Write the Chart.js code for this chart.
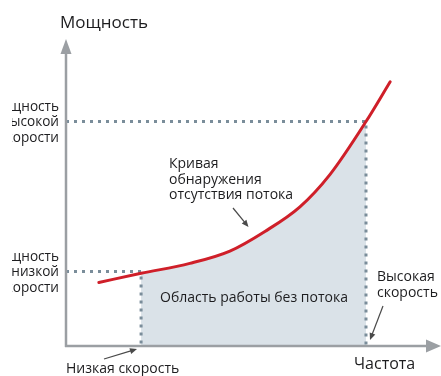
<!DOCTYPE html>
<html>
<head>
<meta charset="utf-8">
<script src="https://cdn.jsdelivr.net/npm/chart.js@4"></script>
<style>
  html, body { margin: 0; padding: 0; background: #ffffff; }
  canvas { display: block; }
</style>
</head>
<body>
<canvas id="chart" width="441" height="376"></canvas>
<script>
// Frequency (x) and power (y), relative units on a 0–100 scale
const curveFreq  = [9.1, 20.8, 34.3, 45.4, 55.1, 64.8, 73.1, 83.1, 89.8];
const curvePower = [21.7, 24.8, 28.2, 32.4, 39.1, 47.5, 58.5, 76.6, 90.2];

// Operating points: low / high speed and the matching power levels
const speedFreq  = [20.8, 83.1];
const speedPower = [25.4, 76.6];

// Text
const yAxisTitle     = 'Мощность';
const xAxisTitle     = 'Частота';
const highPowerLabel = ['Мощность', 'высокой', 'скорости'];
const lowPowerLabel  = ['Мощность', 'низкой', 'скорости'];
const lowSpeedLabel  = ['Низкая скорость'];
const highSpeedLabel = ['Высокая', 'скорость'];
const curveLabel     = ['Кривая', 'обнаружения', 'отсутствия потока'];
const areaLabel      = ['Область работы без потока'];

const curvePts = curveFreq.map((x, i) => ({ x, y: curvePower[i] }));
const shadePts = curvePts.filter(p => p.x >= speedFreq[0] && p.x <= speedFreq[1]);
const guide = i => [
  { x: 0, y: speedPower[i] },
  { x: speedFreq[i], y: speedPower[i] },
  { x: speedFreq[i], y: 0 }
];

const FONT = '"Open Sans", "Noto Sans", sans-serif';
const TEXT = '#1d1d1f';
const AXIS = '#9b9fa3';
const POINTER = '#4a4a4a';

function drawLines(ctx, lines, x, y0, step, align) {
  ctx.textAlign = align;
  lines.forEach((t, i) => ctx.fillText(t, x, y0 + i * step));
}

function pointer(ctx, x1, y1, x2, y2) {
  const a = Math.atan2(y2 - y1, x2 - x1);
  const len = 7, half = 3;
  ctx.strokeStyle = POINTER;
  ctx.fillStyle = POINTER;
  ctx.lineWidth = 1.2;
  ctx.beginPath();
  ctx.moveTo(x1, y1);
  ctx.lineTo(x2 - Math.cos(a) * len * 0.8, y2 - Math.sin(a) * len * 0.8);
  ctx.stroke();
  ctx.beginPath();
  ctx.moveTo(x2, y2);
  ctx.lineTo(x2 - Math.cos(a) * len - Math.sin(a) * half, y2 - Math.sin(a) * len + Math.cos(a) * half);
  ctx.lineTo(x2 - Math.cos(a) * len + Math.sin(a) * half, y2 - Math.sin(a) * len - Math.cos(a) * half);
  ctx.closePath();
  ctx.fill();
}

// Axes with arrowheads and the explanatory text
const diagramPlugin = {
  id: 'diagram',
  afterDatasetsDraw(chart) {
    const { ctx, scales: { x, y } } = chart;
    const x0 = x.getPixelForValue(0), y0 = y.getPixelForValue(0);
    const xEnd = x.getPixelForValue(100), yEnd = y.getPixelForValue(100);
    ctx.save();

    // axes
    ctx.strokeStyle = AXIS;
    ctx.fillStyle = AXIS;
    ctx.lineWidth = 2.5;
    ctx.beginPath();
    ctx.moveTo(x0, y0 + 1);
    ctx.lineTo(x0, yEnd);
    ctx.moveTo(x0 - 1, y0);
    ctx.lineTo(xEnd, y0);
    ctx.stroke();
    ctx.beginPath();
    ctx.moveTo(x0, yEnd - 14);
    ctx.lineTo(x0 - 5.5, yEnd + 1);
    ctx.lineTo(x0 + 5.5, yEnd + 1);
    ctx.closePath();
    ctx.fill();
    ctx.beginPath();
    ctx.moveTo(xEnd + 14, y0);
    ctx.lineTo(xEnd - 1, y0 - 6.5);
    ctx.lineTo(xEnd - 1, y0 + 6.5);
    ctx.closePath();
    ctx.fill();

    // text
    ctx.fillStyle = TEXT;
    ctx.textBaseline = 'alphabetic';
    ctx.font = '17px ' + FONT;
    drawLines(ctx, [yAxisTitle], 60, 28, 0, 'left');
    ctx.font = '16px ' + FONT;
    drawLines(ctx, [xAxisTitle], 354, 369, 0, 'left');

    ctx.font = '14px ' + FONT;
    drawLines(ctx, lowSpeedLabel, 66, 373, 0, 'left');
    drawLines(ctx, highSpeedLabel, 377, 281, 15.5, 'left');
    drawLines(ctx, curveLabel, 169, 168, 15.5, 'left');
    drawLines(ctx, areaLabel, 254, 302, 0, 'center');

    // power level captions, trimmed at the left margin
    ctx.save();
    ctx.beginPath();
    ctx.rect(12, 0, 60, chart.height);
    ctx.clip();
    ctx.font = '13.6px ' + FONT;
    drawLines(ctx, highPowerLabel, 59, 111, 15.4, 'right');
    drawLines(ctx, lowPowerLabel, 59, 261, 15.4, 'right');
    ctx.restore();

    // pointers
    pointer(ctx, 233, 208, 248.5, 227);
    pointer(ctx, 104, 359, 137, 349);
    pointer(ctx, 383, 306, 370, 340);

    ctx.restore();
  }
};

new Chart(document.getElementById('chart'), {
  type: 'line',
  data: {
    datasets: [
      {
        label: 'curve',
        data: curvePts,
        borderColor: '#cf1f29',
        borderWidth: 3,
        borderCapStyle: 'round',
        cubicInterpolationMode: 'monotone',
        pointRadius: 0,
        fill: false,
        clip: false,
        order: 0
      },
      {
        label: 'high',
        data: guide(1),
        borderColor: '#7a8d9a',
        borderWidth: 3,
        borderDash: [3, 5],
        pointRadius: 0,
        tension: 0,
        fill: false,
        clip: false,
        order: 1
      },
      {
        label: 'low',
        data: guide(0),
        borderColor: '#7a8d9a',
        borderWidth: 3,
        borderDash: [3, 5],
        pointRadius: 0,
        tension: 0,
        fill: false,
        clip: false,
        order: 1
      },
      {
        label: 'area',
        data: shadePts,
        borderWidth: 0,
        borderColor: 'rgba(0,0,0,0)',
        backgroundColor: '#dae2e8',
        cubicInterpolationMode: 'monotone',
        pointRadius: 0,
        fill: 'origin',
        clip: false,
        order: 2
      }
    ]
  },
  options: {
    responsive: false,
    devicePixelRatio: 1,
    animation: false,
    events: [],
    layout: { padding: { left: 66, right: 14, top: 53, bottom: 30 } },
    plugins: { legend: { display: false }, tooltip: { enabled: false } },
    scales: {
      x: { type: 'linear', min: 0, max: 100, display: false },
      y: { type: 'linear', min: 0, max: 100, display: false }
    }
  },
  plugins: [diagramPlugin]
});
</script>
</body>
</html>
